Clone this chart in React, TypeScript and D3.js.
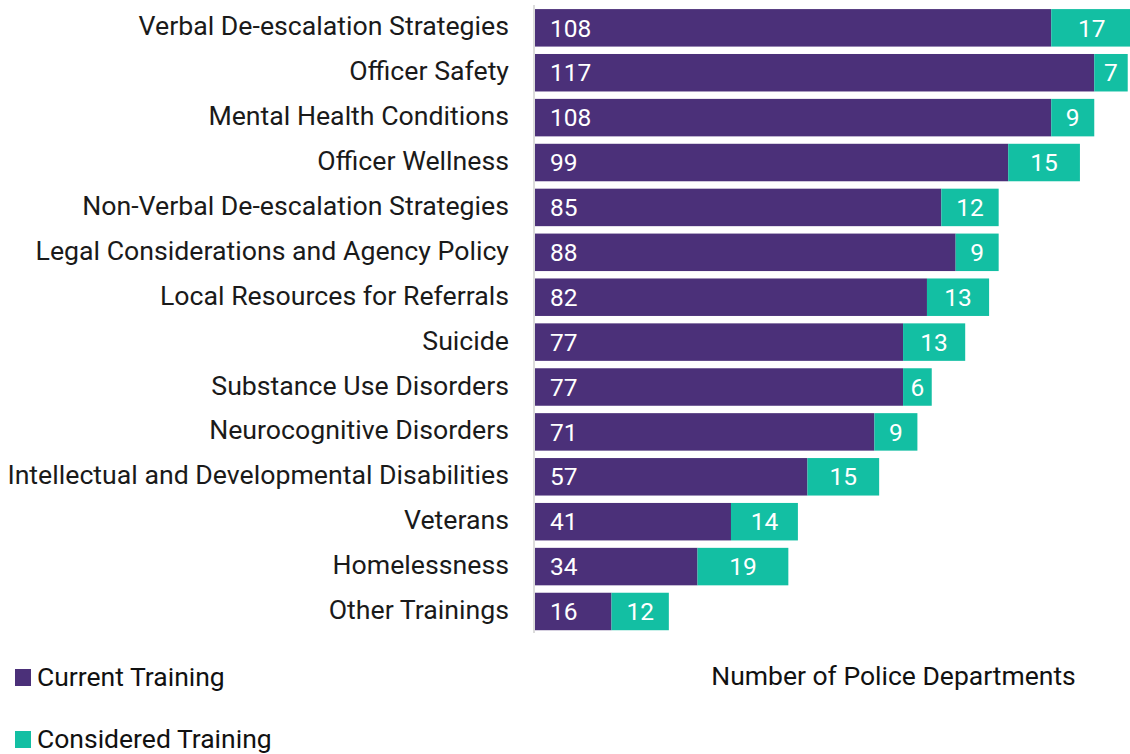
import React from "react";
import * as d3 from "d3";

const categories = [
  "Verbal De-escalation Strategies",
  "Officer Safety",
  "Mental Health Conditions",
  "Officer Wellness",
  "Non-Verbal De-escalation Strategies",
  "Legal Considerations and Agency Policy",
  "Local Resources for Referrals",
  "Suicide",
  "Substance Use Disorders",
  "Neurocognitive Disorders",
  "Intellectual and Developmental Disabilities",
  "Veterans",
  "Homelessness",
  "Other Trainings",
];
const currentTraining = [108, 117, 108, 99, 85, 88, 82, 77, 77, 71, 57, 41, 34, 16];
const consideredTraining = [17, 7, 9, 15, 12, 9, 13, 13, 6, 9, 15, 14, 19, 12];
const seriesNames = ["Current Training", "Considered Training"];
const axisTitle = "Number of Police Departments";

const PURPLE = "#4B3079";
const TEAL = "#13BFA3";
const FONT = "Roboto, 'Noto Sans', sans-serif";

export default function App() {
  const W = 1130;
  const H = 754;
  const x0 = 535;
  const x = d3.scaleLinear().domain([0, 125]).range([x0, x0 + 125 * 4.78]);
  const y = d3
    .scaleBand()
    .domain(categories)
    .range([5.5, 5.5 + 44.88 * 14])
    .paddingInner(0.165)
    .paddingOuter(0.08);
  const bh = y.bandwidth();

  return (
    <svg
      width={W}
      height={H}
      style={{ position: "absolute", left: 0, top: 0, background: "#fff" }}
      fontFamily={FONT}
    >
      {categories.map((c, i) => {
        const yy = y(c)!;
        const cy = yy + bh / 2;
        const cur = currentTraining[i];
        const con = consideredTraining[i];
        return (
          <g key={c}>
            <text x={509} y={cy + 7.5} textAnchor="end" fontSize={26.7} fill="#1a1a1a">
              {c}
            </text>
            <rect x={x(0)} y={yy} width={x(cur) - x(0)} height={bh} fill={PURPLE} />
            <rect x={x(cur)} y={yy} width={x(cur + con) - x(cur)} height={bh} fill={TEAL} />
            <text x={x(0) + 15} y={cy + 8.7} fontSize={24.5} fill="#fff">
              {cur}
            </text>
            <text
              x={(x(cur) + x(cur + con)) / 2}
              y={cy + 8.7}
              textAnchor="middle"
              fontSize={24.5}
              fill="#fff"
            >
              {con}
            </text>
          </g>
        );
      })}
      <line x1={534} x2={534} y1={5} y2={633} stroke="#d0d0d0" strokeWidth={1.5} />
      <text x={893.5} y={685} textAnchor="middle" fontSize={26.5} fill="#111">
        {axisTitle}
      </text>
      {seriesNames.map((s, i) => (
        <g key={s} transform={`translate(0, ${i * 62})`}>
          <rect x={15} y={669} width={16} height={17} fill={i === 0 ? PURPLE : TEAL} />
          <text x={37} y={686} fontSize={26.5} fill="#111">
            {s}
          </text>
        </g>
      ))}
    </svg>
  );
}
